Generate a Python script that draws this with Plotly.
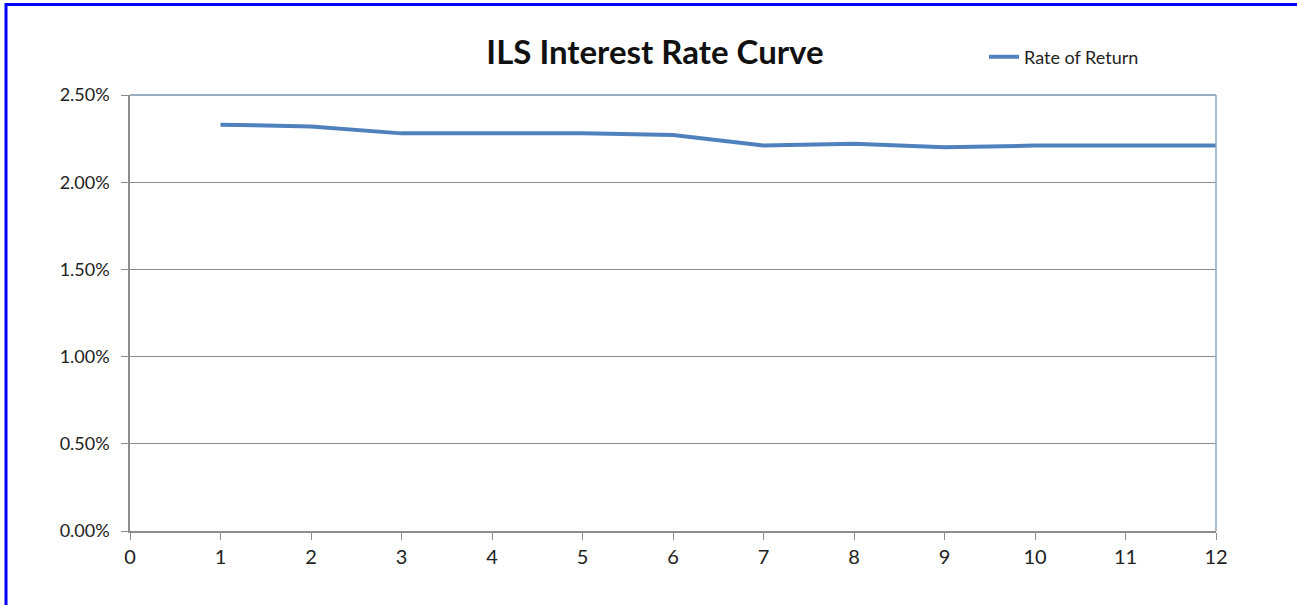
import plotly.graph_objects as go

maturity = [1, 2, 3, 4, 5, 6, 7, 8, 9, 10, 11, 12]
rate_of_return = [0.0233, 0.0232, 0.0228, 0.0228, 0.0228, 0.0227, 0.0221, 0.0222, 0.0220, 0.0221, 0.0221, 0.0221]

FONT = "Lato, Liberation Sans, sans-serif"

fig = go.Figure()
fig.add_trace(go.Scatter(
    x=maturity, y=rate_of_return, mode="lines", name="Rate of Return",
    line=dict(color="#4f81bd", width=4),
))

W, H = 1297, 605
L, R, T, B = 130, 81, 95, 74
pw, ph = W - L - R, H - T - B

fig.update_layout(
    width=W, height=H,
    margin=dict(l=L, r=R, t=T, b=B),
    paper_bgcolor="white", plot_bgcolor="white",
    title=dict(text="<b>ILS Interest Rate Curve</b>", x=655 / W, xanchor="center",
               y=1 - 52 / H, yanchor="middle",
               font=dict(family=FONT, size=33, color="#111111")),
    showlegend=True,
    legend=dict(x=(984 - L) / pw, y=1 + (95 - 57) / ph, xanchor="left", yanchor="middle",
                bgcolor="rgba(0,0,0,0)", font=dict(family=FONT, size=18, color="#222222")),
    xaxis=dict(range=[0, 12], dtick=1, tick0=0, showgrid=False, zeroline=False,
               showline=True, linecolor="#8c8c8c", linewidth=1.5,
               ticks="outside", ticklen=7, tickcolor="#8c8c8c",
               tickfont=dict(family=FONT, size=20, color="#222222")),
    yaxis=dict(range=[0, 0.025], dtick=0.005, tickformat=".2%", showgrid=True,
               gridcolor="#8c8c8c", gridwidth=1, zeroline=False,
               showline=True, linecolor="#8c8c8c", linewidth=1.5,
               ticks="outside", ticklen=7, tickcolor="#8c8c8c", ticklabelstandoff=8,
               tickfont=dict(family=FONT, size=18, color="#222222")),
    shapes=[
        dict(type="line", xref="paper", yref="paper", x0=0, x1=1, y0=1, y1=1,
             line=dict(color="#7a93ad", width=1.5)),
        dict(type="line", xref="paper", yref="paper", x0=1, x1=1, y0=0, y1=1,
             line=dict(color="#8ea9c6", width=1.5)),
        dict(type="line", xref="paper", yref="paper", x0=(6 - L) / pw, x1=(W - L) / pw,
             y0=1 + (T - 4.5) / ph, y1=1 + (T - 4.5) / ph,
             line=dict(color="#0000ff", width=3)),
        dict(type="line", xref="paper", yref="paper", x0=(6 - L) / pw, x1=(6 - L) / pw,
             y0=1 + (T - 3) / ph, y1=-(B) / ph,
             line=dict(color="#0000ff", width=3)),
    ],
)

fig.write_html("out.html", config={"displayModeBar": False},
               post_script="document.body.style.margin='0';")
